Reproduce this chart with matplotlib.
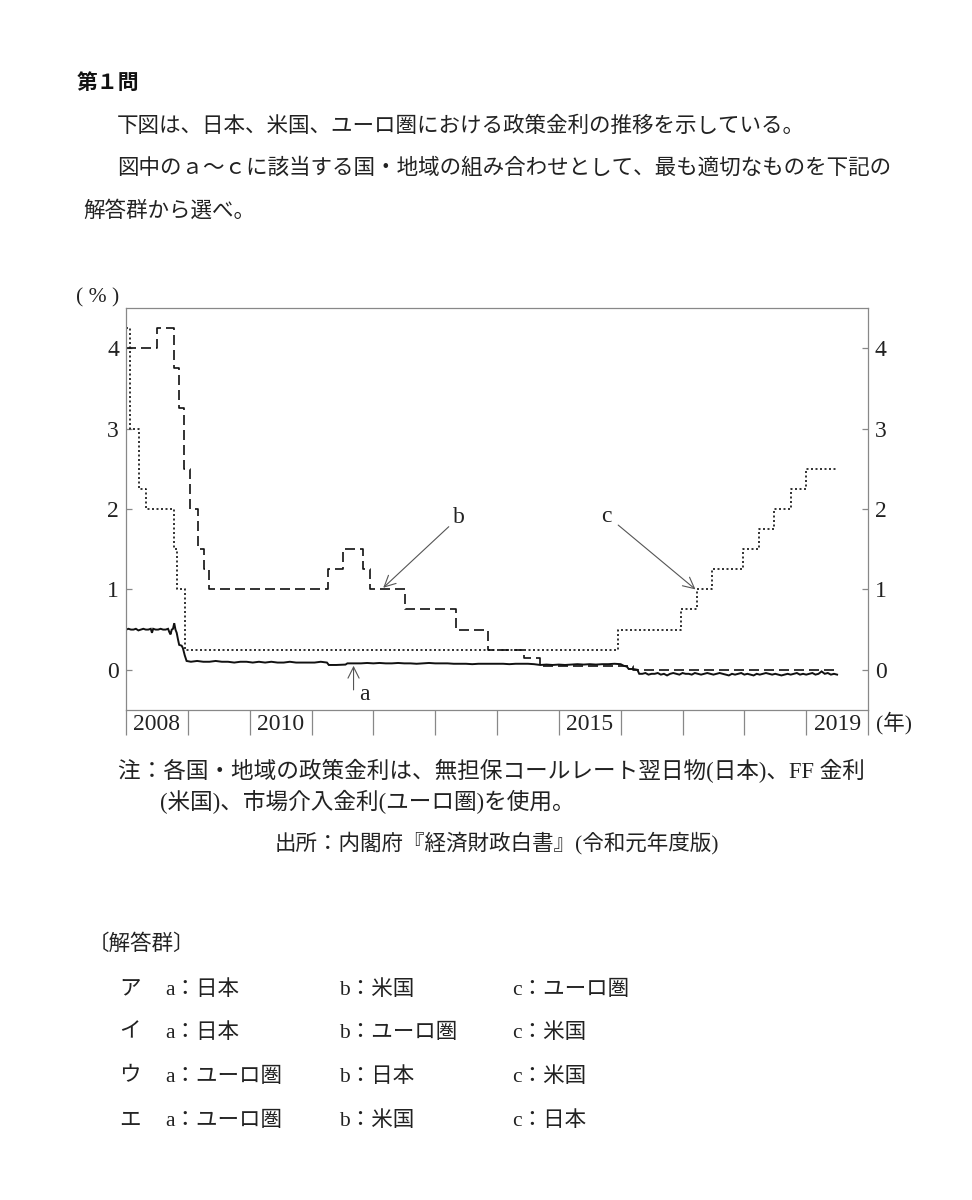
import matplotlib
matplotlib.use('Agg')
import matplotlib.pyplot as plt

plt.rcParams['font.family'] = ['Liberation Serif', 'Noto Sans CJK JP']

# policy rates (%)
# a: Japan, uncollateralized overnight call rate
a_year = [
    2008.00, 2008.04, 2008.08, 2008.12, 2008.16, 2008.20, 2008.24, 2008.28, 2008.32, 2008.36,
    2008.40, 2008.42, 2008.44, 2008.48, 2008.52, 2008.56, 2008.60, 2008.64, 2008.68, 2008.70,
    2008.72, 2008.74, 2008.76, 2008.78, 2008.80, 2008.82, 2008.84, 2008.86, 2008.90, 2008.92,
    2008.95, 2008.98,
    2009.05, 2009.15, 2009.25, 2009.35, 2009.45, 2009.55, 2009.65, 2009.75, 2009.85, 2009.95,
    2010.05, 2010.15, 2010.25, 2010.35, 2010.45, 2010.55, 2010.65, 2010.75, 2010.85, 2010.95,
    2011.05, 2011.15, 2011.25,
    2011.28, 2011.40, 2011.55, 2011.58, 2011.70, 2011.80, 2011.90,
    2012.00, 2012.10, 2012.20, 2012.30, 2012.40, 2012.50, 2012.60, 2012.70, 2012.80, 2012.90,
    2013.00, 2013.10, 2013.20, 2013.30, 2013.40, 2013.50, 2013.60, 2013.70, 2013.80, 2013.90,
    2014.00, 2014.10, 2014.20, 2014.30, 2014.40, 2014.50, 2014.60, 2014.70, 2014.80, 2014.90,
    2015.00, 2015.10, 2015.20, 2015.30, 2015.40, 2015.50, 2015.60, 2015.70, 2015.80, 2015.90,
    2016.00, 2016.05, 2016.10, 2016.13, 2016.20, 2016.27, 2016.30,
    2016.35, 2016.40, 2016.45, 2016.50, 2016.55, 2016.60, 2016.65, 2016.70, 2016.75, 2016.80,
    2016.85, 2016.90, 2016.95, 2017.00, 2017.05, 2017.10, 2017.15, 2017.20, 2017.25, 2017.30,
    2017.35, 2017.40, 2017.45, 2017.50, 2017.55, 2017.60, 2017.65, 2017.70, 2017.75, 2017.80,
    2017.85, 2017.90, 2017.95, 2018.00, 2018.05, 2018.10, 2018.15, 2018.20, 2018.25, 2018.30,
    2018.35, 2018.40, 2018.45, 2018.50, 2018.55, 2018.60, 2018.65, 2018.70, 2018.75, 2018.80,
    2018.85, 2018.90, 2018.95, 2019.00, 2019.05, 2019.10, 2019.15, 2019.20, 2019.25, 2019.30,
    2019.35, 2019.40, 2019.45, 2019.50,
]
a_rate = [
    0.50, 0.51, 0.50, 0.50, 0.51, 0.49, 0.50, 0.51, 0.50, 0.50,
    0.51, 0.46, 0.51, 0.50, 0.50, 0.51, 0.50, 0.50, 0.51, 0.47,
    0.44, 0.50, 0.51, 0.58, 0.50, 0.46, 0.38, 0.31, 0.30, 0.27,
    0.18, 0.11,
    0.10, 0.11, 0.10, 0.10, 0.11, 0.10, 0.10, 0.09, 0.10, 0.10,
    0.09, 0.10, 0.09, 0.10, 0.09, 0.09, 0.10, 0.09, 0.09, 0.09,
    0.09, 0.10, 0.09,
    0.06, 0.06, 0.065, 0.08, 0.08, 0.08, 0.085,
    0.08, 0.085, 0.08, 0.08, 0.085, 0.08, 0.08, 0.075, 0.08, 0.085,
    0.08, 0.08, 0.08, 0.075, 0.075, 0.075, 0.07, 0.075, 0.075, 0.075,
    0.075, 0.075, 0.07, 0.075, 0.075, 0.075, 0.07, 0.06, 0.065, 0.06,
    0.065, 0.06, 0.065, 0.07, 0.065, 0.07, 0.065, 0.07, 0.07, 0.075,
    0.07, 0.05, 0.04, 0.01, 0.01, 0.0, -0.05,
    -0.05, -0.04, -0.06, -0.05, -0.05, -0.04, -0.06, -0.05, -0.07, -0.05,
    -0.04, -0.05, -0.06, -0.04, -0.05, -0.05, -0.06, -0.04, -0.05, -0.06,
    -0.05, -0.04, -0.05, -0.06, -0.05, -0.04, -0.05, -0.06, -0.07, -0.05,
    -0.06, -0.05, -0.04, -0.06, -0.05, -0.06, -0.07, -0.05, -0.06, -0.05,
    -0.04, -0.05, -0.06, -0.05, -0.06, -0.07, -0.06, -0.05, -0.06, -0.05,
    -0.04, -0.06, -0.05, -0.06, -0.05, -0.04, -0.06, -0.05, -0.02, -0.05,
    -0.04, -0.06, -0.05, -0.06,
]

# b: euro area, main refinancing rate (change dates)
b_year = [2008.00, 2008.50, 2008.77, 2008.86, 2008.93, 2009.04, 2009.17, 2009.26, 2009.35,
          2011.27, 2011.51, 2011.83, 2011.95, 2012.52, 2013.34, 2013.85, 2014.44, 2014.69,
          2016.20, 2019.50]
b_rate = [4.00, 4.25, 3.75, 3.25, 2.50, 2.00, 1.50, 1.25, 1.00,
          1.25, 1.50, 1.25, 1.00, 0.75, 0.50, 0.25, 0.15, 0.05,
          0.00, 0.00]

# c: US, FF rate target (change dates)
c_year = [2008.00, 2008.06, 2008.21, 2008.33, 2008.77, 2008.825, 2008.96, 2015.96, 2016.97,
          2017.23, 2017.47, 2017.98, 2018.24, 2018.48, 2018.75, 2018.99, 2019.50]
c_rate = [4.25, 3.00, 2.25, 2.00, 1.50, 1.00, 0.25, 0.50, 0.75,
          1.00, 1.25, 1.50, 1.75, 2.00, 2.25, 2.50, 2.50]

year_labels = {2008: '2008', 2010: '2010', 2015: '2015', 2019: '2019'}

W, H = 972, 1200


def fx(px):
    return px / W


def fy(py):
    return 1 - py / H


fig = plt.figure(figsize=(W / 100, H / 100), dpi=100)
fig.patch.set_facecolor('white')

ink = '#222222'
body = dict(fontsize=15.5, va='center', ha='left', color=ink)
num_size = 17

fig.text(fx(77), fy(82), '第１問', fontsize=15, fontweight='bold',
         family='Noto Sans CJK JP', va='center', color='#111111')
fig.text(fx(117), fy(127), '下図は、日本、米国、ユーロ圏における政策金利の推移を示している。', **body)
fig.text(fx(117), fy(168), '図中のａ～ｃに該当する国・地域の組み合わせとして、最も適切なものを下記の', **body)
fig.text(fx(83), fy(211), '解答群から選べ。', **body)

# chart
gray = '#888888'
ax = fig.add_axes([fx(126), fy(710), fx(868) - fx(126), fy(308) - fy(710)])
ax.plot(a_year, a_rate, color='#111111', lw=1.4, solid_joinstyle='miter')
ax.plot(b_year, b_rate, color='#111111', lw=1.2, drawstyle='steps-post',
        linestyle=(0, (6, 3)))
ax.plot(c_year, c_rate, color='#111111', lw=1.2, drawstyle='steps-post',
        linestyle=(0, (1.2, 1.5)))

ax.set_xlim(2008, 2020)
ax.set_ylim(-0.5, 4.5)
for s in ax.spines.values():
    s.set_color(gray)
    s.set_linewidth(0.9)

ax.set_yticks([0, 1, 2, 3, 4])
ax.tick_params(axis='y', direction='in', length=4, width=0.9, color=gray,
               left=True, right=True, labelleft=True, labelright=True,
               labelsize=num_size, pad=5, labelcolor=ink)
ax.set_xticks(range(2008, 2021))
ax.tick_params(axis='x', direction='out', length=18, width=0.9, color=gray,
               labelbottom=False)

for yr, lab in year_labels.items():
    ax.text(yr + 0.5, -0.5 - 14 / 80.4, lab, ha='center', va='center',
            fontsize=num_size, color=ink, clip_on=False)

arrow = dict(arrowstyle='->', color='#555555', lw=0.8, shrinkA=0, shrinkB=0,
             mutation_scale=20)
ax.annotate('', xy=(2012.16, 1.02), xytext=(2013.22, 1.78), arrowprops=arrow)
ax.text(2013.38, 1.89, 'b', ha='center', va='center', fontsize=num_size, color=ink)
ax.annotate('', xy=(2017.21, 1.0), xytext=(2015.96, 1.80), arrowprops=arrow)
ax.text(2015.77, 1.91, 'c', ha='center', va='center', fontsize=num_size, color=ink)
ax.annotate('', xy=(2011.68, 0.05), xytext=(2011.68, -0.25), arrowprops=arrow)
ax.text(2011.86, -0.31, 'a', ha='center', va='center', fontsize=num_size, color=ink)

fig.text(fx(76), fy(298), '( % )', **body)
fig.text(fx(876), fy(723), '(年)', **body)

# notes
note = dict(body, fontsize=16.3)
fig.text(fx(118), fy(771), '注：各国・地域の政策金利は、無担保コールレート翌日物(日本)、FF 金利', **note)
fig.text(fx(160), fy(802), '(米国)、市場介入金利(ユーロ圏)を使用。', **note)
fig.text(fx(497), fy(843), '出所：内閣府『経済財政白書』(令和元年度版)',
         **dict(body, ha='center'))

# answer group
fig.text(fx(88), fy(945), '〔解答群〕', **body)
options = [
    ('ア', 'a：日本', 'b：米国', 'c：ユーロ圏'),
    ('イ', 'a：日本', 'b：ユーロ圏', 'c：米国'),
    ('ウ', 'a：ユーロ圏', 'b：日本', 'c：米国'),
    ('エ', 'a：ユーロ圏', 'b：米国', 'c：日本'),
]
row_y = [990, 1033, 1077, 1121]
for (k, a, b, c), y in zip(options, row_y):
    fig.text(fx(119), fy(y), k, **body)
    fig.text(fx(165), fy(y), a, **body)
    fig.text(fx(339), fy(y), b, **body)
    fig.text(fx(512), fy(y), c, **body)

fig.savefig('out.png', dpi=100, facecolor='white')
